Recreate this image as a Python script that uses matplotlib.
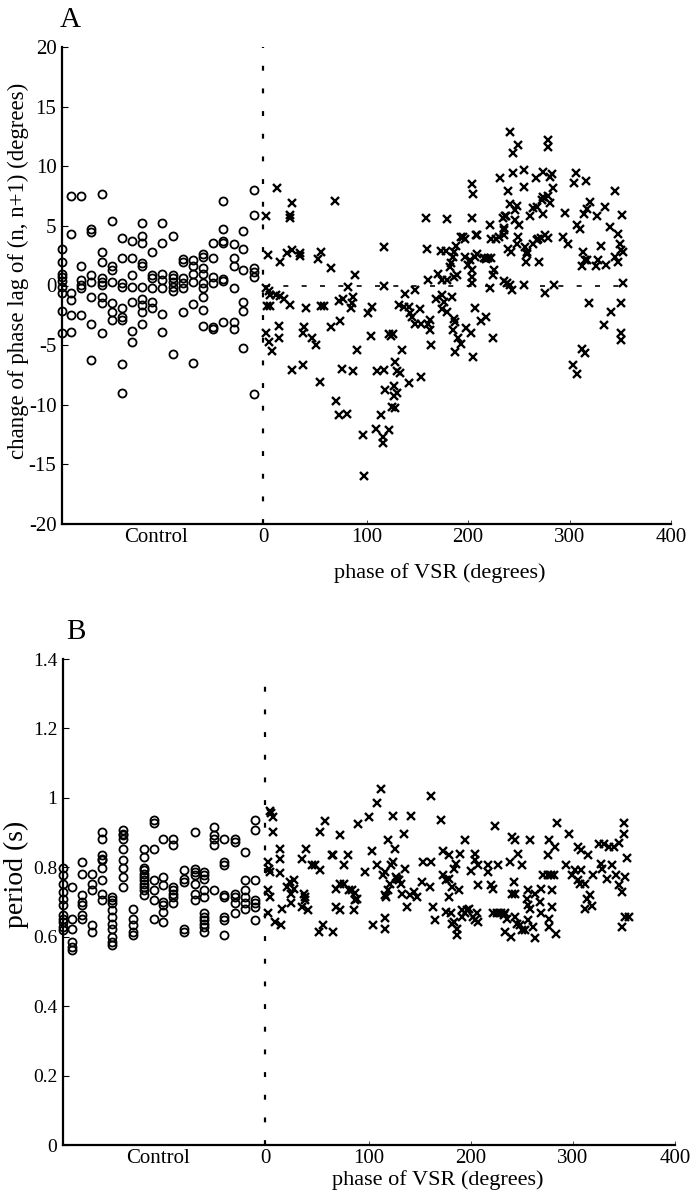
import matplotlib
matplotlib.use("Agg")
import matplotlib.pyplot as plt

plt.rcParams['font.family'] = ['Liberation Serif', 'DejaVu Serif']

# ---------------- Panel A data ----------------
# Control circles: phase column -> list of change of phase lag (deg)
ctrl_a_cols = [-200, -191, -181, -171, -161, -151, -141, -131, -121, -111,
               -101, -91, -81, -71, -61, -51, -41, -31, -22, -11]
ctrl_a_vals = [
    [3.1, 2.0, 1.0, 0.7, 0.4, -0.1, -0.6, -2.1, -3.95],
    [7.5, 4.3, -0.65, -1.2, -2.5, -3.9],
    [7.5, 1.65, 0.45, 0.05, -0.25, -2.5],
    [4.7, 4.5, 0.85, 0.3, -1.0, -3.2, -6.25],
    [7.7, 2.85, 2.0, 0.6, 0.3, 0.05, -0.95, -1.5, -3.95],
    [5.4, 1.6, 1.3, 0.3, -1.5, -2.25, -2.9],
    [4.0, 2.3, 0.2, -0.1, -1.9, -2.6, -2.9, -6.6, -9.0],
    [3.7, 2.3, 0.9, -0.1, -1.35, -3.8, -4.7],
    [5.2, 4.15, 3.6, 1.85, 1.65, -0.1, -1.1, -1.6, -2.2, -3.2],
    [2.85, 0.9, 0.65, -0.2, -1.35, -1.9],
    [5.2, 3.6, 1.0, 0.45, -0.25, -2.4, -3.9],
    [4.15, 0.85, 0.6, 0.3, -0.15, -0.5, -5.75],
    [2.2, 2.0, 0.6, 0.2, -0.25, -2.25],
    [2.1, 1.6, 1.0, 0.3, -1.55, -6.5],
    [2.65, 2.4, 1.5, 1.0, 0.25, -0.25, -0.95, -2.05, -3.4],
    [3.6, 2.3, 0.7, 0.2, -3.45, -3.65],
    [7.1, 4.7, 3.75, 3.6, 0.55, 0.4, -3.1],
    [3.45, 2.3, 1.65, -0.2, -3.1, -3.65],
    [4.6, 3.1, 1.3, -1.35, -2.15, -5.2],
    [8.0, 5.9, 1.45, 1.15, 0.75, -9.1],
]

# VSR crosses: (phase of VSR, change of phase lag)
vsr_a = [
    (12, 8.2), (27, 6.95), (69, 7.1), (1, 5.85), (25, 5.9), (25, 5.7), (159, 5.7), (179, 5.55),
    (3, 2.55), (15, 2.0), (22, 2.7), (27, 3.0), (34, 2.7), (34, 2.5), (55, 2.85), (52, 2.2),
    (65, 1.45), (89, 0.9), (82, -0.1), (117, 3.25), (117, 0.0),
    (160, 3.05), (173, 2.9), (178, 2.9), (186, 2.85), (188, 3.3), (185, 2.35), (183, 1.85), (182, 1.55),
    (161, 0.5), (170, 0.95), (174, 0.45), (179, 0.5), (186, 0.68), (189, 0.9), (193, 4.1),
    (1, -0.25), (4, -0.5), (5, -0.8), (11, -0.8), (15, -0.9), (19, -1.1), (25, -1.6), (2, -1.7),
    (5, -1.7), (40, -1.9), (55, -1.7), (58, -1.7), (73, -1.3), (77, -1.15), (86, -1.5), (85, -1.9),
    (87, -1.0), (101, -2.3), (105, -1.8), (132, -1.6), (137, -1.8), (142, -1.8), (138, -0.7),
    (148, -0.4), (143, -2.3), (145, -2.6), (153, -2.0), (148, -3.25), (154, -3.25), (161, -3.25),
    (163, -2.9), (163, -3.7), (168, -1.1), (174, -0.8), (176, -1.4), (174, -2.0), (179, -2.2),
    (184, -1.0), (186, -2.8), (187, -3.1), (185, -3.7), (190, -4.4), (193, -4.9), (187, -5.6),
    (14, -3.4), (14, -4.4), (0.5, -4.0), (4, -4.7), (7, -5.5), (38, -3.5), (37, -4.0), (46, -4.4),
    (50, -5.0), (65, -3.5), (74, -3.0), (91, -5.4), (104, -4.2), (122, -4.1), (126, -4.1),
    (124, -4.2), (135, -5.4), (128, -6.4), (130, -7.2), (133, -7.3), (154, -7.7), (142, -8.2),
    (27, -7.1), (37, -6.7), (54, -8.1), (76, -7.0), (87, -7.2), (110, -7.2), (117, -7.1),
    (118, -8.8), (127, -8.4), (130, -9.0), (127, -9.3), (125, -10.2), (128, -10.3), (70, -9.65),
    (73, -10.9), (81, -10.8), (114, -10.9), (97, -12.5), (109, -12.0), (122, -12.1), (116, -12.7),
    (116, -13.2), (98, -16.0), (164, -5.0),
    (241, 12.9), (249, 11.8), (244, 11.1), (279, 12.2), (279, 11.6),
    (232, 9.0), (244, 9.4), (255, 9.7), (239, 7.9), (255, 8.3), (267, 9.0), (274, 9.5), (283, 9.35),
    (281, 9.1), (284, 8.15), (274, 7.4), (273, 7.2), (279, 7.5), (281, 6.9), (306, 9.4), (304, 8.6),
    (316, 8.8), (345, 7.9), (241, 6.8), (248, 6.7), (246, 6.3), (264, 6.5), (261, 5.8), (268, 6.6),
    (274, 6.0), (296, 6.1), (320, 7.0), (317, 6.4), (314, 6.0), (335, 6.6), (327, 5.8), (352, 5.9),
    (204, 8.5), (205, 7.7), (204, 5.7), (234, 5.7), (237, 5.8), (222, 5.1), (246, 5.5), (250, 5.1),
    (235, 4.8), (307, 5.1), (310, 4.7), (340, 4.9), (348, 4.3), (350, 3.5), (351, 3.0), (353, 2.8),
    (195, 4.1), (197, 3.9), (209, 4.2), (223, 3.9), (228, 3.9), (231, 4.1), (235, 4.2), (249, 4.1),
    (269, 3.9), (272, 4.0), (276, 4.2), (279, 4.0), (294, 4.1), (299, 3.5), (239, 3.1), (242, 2.8),
    (256, 3.2), (258, 2.8), (258, 2.6), (264, 3.5), (268, 3.8), (248, 3.5), (331, 3.3), (313, 2.8),
    (315, 2.1), (317, 2.1), (345, 2.4), (348, 2.0), (328, 2.1), (336, 1.7), (326, 1.6), (312, 1.6),
    (197, 2.4), (202, 2.1), (207, 2.4), (209, 2.6), (216, 2.3), (220, 2.3), (223, 2.3), (204, 1.3),
    (204, 0.75), (204, 0.2), (200, 1.7), (226, 1.3), (225, 0.86), (222, -0.25), (257, 1.95),
    (270, 1.95), (235, 0.35), (238, 0.2), (241, 0.05), (243, -0.4), (255, 0.05), (276, -0.65),
    (285, 0.05), (353, 0.2), (319, -1.5), (351, -1.5), (341, -2.2), (334, -3.3), (351, -4.0),
    (351, -4.6), (312, -5.3), (315, -5.7), (303, -6.7), (307, -7.4),
    (207, -1.9), (213, -3.0), (218, -2.6), (225, -4.4), (205, -6.0), (198, -3.6), (203, -4.0),
    (236, 5.8), (235, 4.65), (218, 2.2), (208, 4.2),
]

# ---------------- Panel B data ----------------
ctrl_b_cols = [-200, -191, -181, -172, -162, -152, -141, -131, -121, -111,
               -102, -92, -81, -71, -62, -52, -42, -31, -22, -12]
ctrl_b_vals = [
    [0.799, 0.777, 0.753, 0.729, 0.710, 0.691, 0.662, 0.652, 0.643, 0.628, 0.618],
    [0.743, 0.652, 0.623, 0.585, 0.571, 0.561],
    [0.815, 0.782, 0.720, 0.700, 0.691, 0.662, 0.652],
    [0.782, 0.753, 0.734, 0.633, 0.614],
    [0.901, 0.882, 0.834, 0.825, 0.820, 0.799, 0.763, 0.724, 0.705],
    [0.715, 0.705, 0.696, 0.676, 0.657, 0.638, 0.623, 0.599, 0.585, 0.576],
    [0.906, 0.896, 0.892, 0.882, 0.854, 0.820, 0.799, 0.772, 0.743],
    [0.681, 0.652, 0.633, 0.614, 0.604],
    [0.854, 0.830, 0.799, 0.791, 0.782, 0.772, 0.763, 0.753, 0.743, 0.734, 0.720],
    [0.935, 0.927, 0.854, 0.763, 0.734, 0.705, 0.652],
    [0.882, 0.772, 0.748, 0.700, 0.691, 0.671, 0.643],
    [0.882, 0.863, 0.743, 0.734, 0.724, 0.715, 0.696],
    [0.793, 0.767, 0.758, 0.623, 0.614],
    [0.901, 0.796, 0.786, 0.777, 0.751, 0.724, 0.705],
    [0.786, 0.777, 0.767, 0.734, 0.715, 0.667, 0.657, 0.647, 0.638, 0.628, 0.614],
    [0.916, 0.892, 0.882, 0.863, 0.734],
    [0.882, 0.815, 0.806, 0.720, 0.715, 0.657, 0.647, 0.604],
    [0.882, 0.873, 0.724, 0.715, 0.696, 0.667],
    [0.844, 0.763, 0.734, 0.715, 0.696, 0.681],
    [0.935, 0.906, 0.763, 0.705, 0.696, 0.686, 0.647],
]

vsr_b = [
    (3, 0.962), (4, 0.955), (6, 0.945), (6, 0.901), (1, 0.815), (2, 0.796), (3, 0.786),
    (1, 0.734), (3, 0.715), (1, 0.667), (8, 0.643), (14, 0.633), (13, 0.854), (13, 0.823),
    (13, 0.783), (15, 0.681),
    (20, 0.743), (23, 0.758), (26, 0.763), (24, 0.724), (26, 0.738), (24, 0.696), (34, 0.686),
    (36, 0.724), (37, 0.715), (40, 0.676), (37, 0.705), (34, 0.825), (38, 0.854),
    (44, 0.806), (47, 0.806), (52, 0.793), (52, 0.902), (57, 0.933), (51, 0.614), (55, 0.635),
    (65, 0.614), (64, 0.834), (65, 0.834), (75, 0.806), (79, 0.834), (72, 0.894),
    (68, 0.738), (72, 0.753), (75, 0.751), (80, 0.735), (83, 0.734), (86, 0.726), (88, 0.710),
    (86, 0.707), (68, 0.686), (72, 0.676), (85, 0.676),
    (89, 0.925), (96, 0.786), (100, 0.945), (103, 0.847), (108, 0.806), (104, 0.635),
    (116, 0.655), (116, 0.623), (108, 0.985), (112, 1.026),
    (116, 0.786), (114, 0.777), (116, 0.720), (117, 0.715), (119, 0.734), (121, 0.753),
    (122, 0.806), (124, 0.815), (126, 0.772), (127, 0.767), (129, 0.763), (131, 0.753),
    (132, 0.724), (135, 0.796), (137, 0.686),
    (119, 0.878), (125, 0.854), (124, 0.947), (134, 0.897), (141, 0.947),
    (140, 0.720), (144, 0.729), (147, 0.715), (152, 0.758), (153, 0.815), (160, 0.743),
    (161, 0.815), (163, 0.686), (161, 1.005), (171, 0.937),
    (173, 0.847), (178, 0.834), (173, 0.777), (175, 0.763), (178, 0.767), (178, 0.715),
    (181, 0.743), (183, 0.796), (185, 0.810), (188, 0.734), (189, 0.837), (191, 0.676),
    (196, 0.676), (194, 0.667), (198, 0.681), (200, 0.789), (204, 0.820), (204, 0.837),
    (207, 0.748), (207, 0.806),
    (165, 0.647), (175, 0.671), (180, 0.667), (181, 0.638), (183, 0.643), (186, 0.604),
    (186, 0.623), (191, 0.657), (202, 0.657), (204, 0.647), (207, 0.643), (206, 0.667),
    (194, 0.880),
    (217, 0.806), (217, 0.786), (226, 0.806), (224, 0.920),
    (220, 0.748), (222, 0.738), (222, 0.667), (225, 0.667), (229, 0.667), (232, 0.662),
    (233, 0.667), (233, 0.614), (239, 0.599), (235, 0.652),
    (238, 0.815), (240, 0.887), (243, 0.878), (246, 0.839), (250, 0.806), (243, 0.724),
    (240, 0.724), (242, 0.758), (243, 0.657), (245, 0.638), (248, 0.633), (256, 0.734),
    (255, 0.710), (256, 0.691), (258, 0.681), (263, 0.724), (261, 0.628), (263, 0.597),
    (250, 0.618), (253, 0.618), (256, 0.647), (258, 0.878),
    (269, 0.738), (268, 0.700), (271, 0.777), (275, 0.777), (278, 0.777), (281, 0.777),
    (269, 0.667), (276, 0.652), (279, 0.686), (276, 0.628), (283, 0.609), (279, 0.734),
    (275, 0.834), (276, 0.878), (282, 0.858), (284, 0.927),
    (296, 0.897), (293, 0.806), (299, 0.777), (302, 0.791), (305, 0.763), (307, 0.753),
    (308, 0.791), (312, 0.753), (314, 0.710), (317, 0.720), (312, 0.681), (319, 0.688),
    (305, 0.858), (308, 0.849), (315, 0.834),
    (325, 0.868), (330, 0.868), (335, 0.858), (340, 0.858), (345, 0.870), (327, 0.810),
    (338, 0.808), (333, 0.767), (342, 0.777), (345, 0.748), (348, 0.729), (351, 0.772),
    (353, 0.828), (350, 0.897), (350, 0.927), (348, 0.628), (351, 0.657), (355, 0.657),
    (320, 0.777), (328, 0.796),
]

x_tick_pos = [-107, -1.5, 100, 200, 300, 400]
x_tick_lab = ['Control', '0', '100', '200', '300', '400']
ya_ticks = [-20, -15, -10, -5, 0, 5, 10, 15, 20]
yb_ticks = [0, 0.2, 0.4, 0.6, 0.8, 1.0, 1.2, 1.4]
yb_labels = ['0', '0.2', '0.4', '0.6', '0.8', '1', '1.2', '1.4']

W, H = 698, 1199
fig = plt.figure(figsize=(W / 100, H / 100), dpi=100)


def flatten(cols, vals):
    xs, ys = [], []
    for c, v in zip(cols, vals):
        xs += [c] * len(v)
        ys += v
    return xs, ys


def style_axes(ax, ticklab_size):
    for s in ['top', 'right']:
        ax.spines[s].set_visible(False)
    for s in ['left', 'bottom']:
        ax.spines[s].set_linewidth(1.6)
    ax.tick_params(axis='y', direction='in', length=4, width=0.8,
                   labelsize=ticklab_size, pad=4)
    ax.tick_params(axis='x', direction='in', length=3, width=0.5,
                   labelsize=15, pad=3)
    ax.set_xticks(x_tick_pos)
    ax.set_xticklabels(x_tick_lab)
    xt = ax.xaxis.get_major_ticks()
    for t in xt[:2]:
        t.tick1line.set_visible(False)


MS_O, MEW_O = 5.8, 1.3
MS_X, MEW_X = 5.4, 1.7

# ---------------- Panel A ----------------
axA = fig.add_axes([62 / W, 1 - 524 / H, 609 / W, 477 / H])
axA.set_xlim(-200, 400)
axA.set_ylim(-20, 20)
cx, cy = flatten(ctrl_a_cols, ctrl_a_vals)
axA.plot(cx, cy, 'o', mfc='none', mec='black', ms=MS_O, mew=MEW_O, clip_on=False, zorder=3)
vx = [p[0] for p in vsr_a]
vy = [p[1] for p in vsr_a]
axA.plot(vx, vy, 'x', color='black', ms=MS_X, mew=MEW_X, clip_on=False, zorder=3)
axA.plot([-2, -2], [-20, 20], color='black', lw=1.6, dashes=(2.2, 8), zorder=2)
axA.plot([0, 358], [0, 0], color='black', lw=1.2, dashes=(3, 8), zorder=2)
style_axes(axA, 15)
axA.set_yticks(ya_ticks)
axA.set_yticklabels([str(v) for v in ya_ticks])
axA.text(0.62, -0.103, 'phase of VSR (degrees)', transform=axA.transAxes,
         ha='center', va='center', fontsize=16)
axA.text(-0.072, 0.53, 'change of phase lag of (n, n+1) (degrees)', transform=axA.transAxes,
         ha='center', va='center', rotation=90, fontsize=16.5)
fig.text(70 / W, 1 - 20 / H, 'A', ha='center', va='center', fontsize=21)

# ---------------- Panel B ----------------
axB = fig.add_axes([63 / W, 1 - 1145 / H, 612 / W, 486 / H])
axB.set_xlim(-200, 400)
axB.set_ylim(0, 1.4)
cx, cy = flatten(ctrl_b_cols, ctrl_b_vals)
axB.plot(cx, cy, 'o', mfc='none', mec='black', ms=MS_O, mew=MEW_O, clip_on=False, zorder=3)
vx = [p[0] for p in vsr_b]
vy = [p[1] for p in vsr_b]
axB.plot(vx, vy, 'x', color='black', ms=MS_X, mew=MEW_X, clip_on=False, zorder=3)
axB.plot([-2, -2], [0, 1.37], color='black', lw=1.6, dashes=(2.2, 8), zorder=2)
style_axes(axB, 14)
axB.set_yticks(yb_ticks)
axB.set_yticklabels(yb_labels)
axB.text(0.613, -0.072, 'phase of VSR (degrees)', transform=axB.transAxes,
         ha='center', va='center', fontsize=16)
axB.text(-0.076, 0.556, 'period (s)', transform=axB.transAxes,
         ha='center', va='center', rotation=90, fontsize=20)
fig.text(76 / W, 1 - 632 / H, 'B', ha='center', va='center', fontsize=21)

fig.savefig('out.png', dpi=100)
